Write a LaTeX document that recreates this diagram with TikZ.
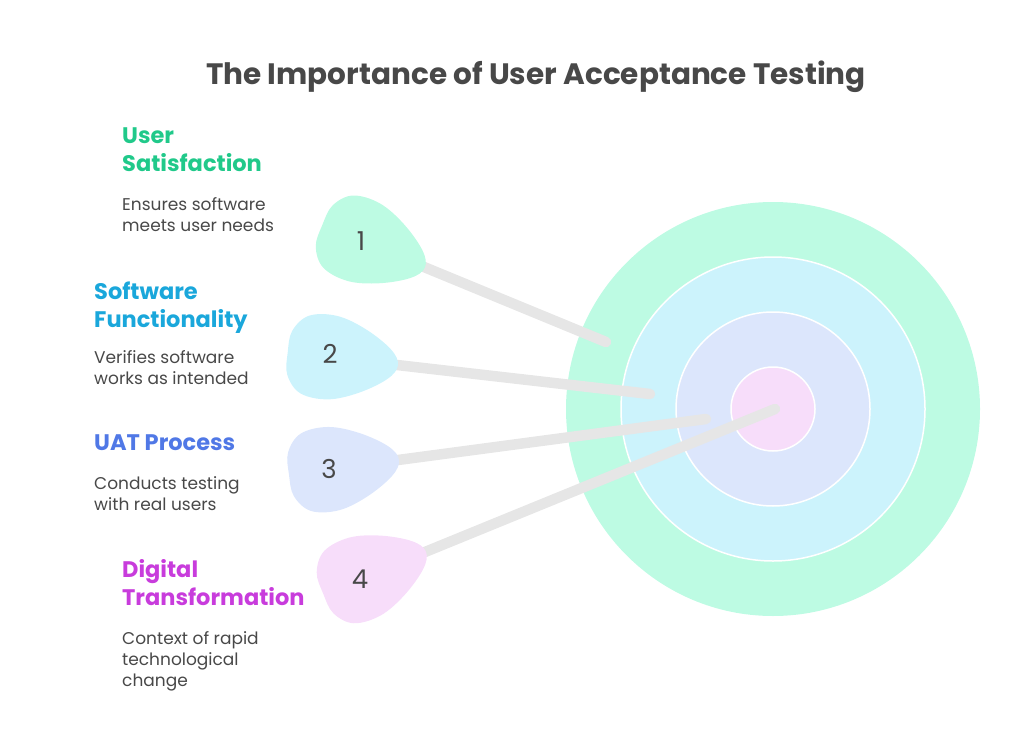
\documentclass[tikz,border=0pt]{standalone}
\usepackage{fontspec}
\setmainfont{Poppins}
\usetikzlibrary{positioning}
\definecolor{mymint}{RGB}{189,251,227}
\definecolor{mycyan}{RGB}{204,243,252}
\definecolor{mylav}{RGB}{220,230,252}
\definecolor{mypink}{RGB}{247,221,250}
\definecolor{mygreen}{RGB}{32,201,138}
\definecolor{myblue}{RGB}{26,167,219}
\definecolor{myindigo}{RGB}{80,120,230}
\definecolor{mypurple}{RGB}{200,60,220}
\definecolor{mygray}{RGB}{72,72,72}
\definecolor{mystick}{RGB}{230,230,230}
\tikzset{
  ring/.style={draw=white, line width=1.5},
  stick/.style={draw=mystick, line width=10.5, line cap=round},
  num/.style={inner sep=0, font=\fontsize{26}{26}\selectfont, text=mygray},
  heading/.style={anchor=north west, inner sep=0, align=left,
    font=\fontsize{22.5}{28}\selectfont\bfseries},
  body/.style={anchor=north west, inner sep=0, align=left,
    font=\fontsize{17}{21}\selectfont, text=mygray},
  dart/.pic={
    \fill[#1] plot[smooth cycle, tension=0.6] coordinates {(1,0) (-8,-15) (-35,-32)
      (-65,-42) (-93,-39) (-108,-22) (-110,0) (-108,22) (-93,39) (-65,42)
      (-35,32) (-8,15)};
  }
}

\begin{document}
\begin{tikzpicture}[x=1pt, y=-1pt]

\useasboundingbox (0,0) rectangle (1024,730);

\node [inner sep=0, text=mygray, font=\fontsize{29.5}{29.5}\selectfont\bfseries] (title) at (536,77) {The Importance of User Acceptance Testing};

% target
\node [circle, fill=mymint, minimum size=414, inner sep=0] (target) at (773,409) {};
\node [circle, ring, fill=mycyan, minimum size=304, inner sep=0] (ring2) at (target) {};
\node [circle, ring, fill=mylav, minimum size=194, inner sep=0] (ring3) at (target) {};
\node [circle, ring, fill=mypink, minimum size=84, inner sep=0] (bull) at (target) {};

% hit points
\coordinate (hit1) at (606,342);
\coordinate (hit2) at (650,394);
\coordinate (hit3) at (706,419);
\coordinate (hit4) at (775,409);

\coordinate (end1) at (424,267);
\coordinate (end2) at (397,365);
\coordinate (end3) at (398,460);
\coordinate (end4) at (425,552);

\draw [stick] (end1) -- (hit1);
\draw [stick] (end2) -- (hit2);
\draw [stick] (end3) -- (hit3);
\draw [stick] (end4) -- (hit4);

\pic [rotate=-22.4] at (end1) {dart=mymint};
\pic [rotate=-6.5] at (end2) {dart=mycyan};
\pic [rotate=7.6] at (end3) {dart=mylav};
\pic [rotate=22.2] at (end4) {dart=mypink};

\node [num] (n1) at (361,241) {1};
\node [num] (n2) at (330,354) {2};
\node [num] (n3) at (329,469) {3};
\node [num] (n4) at (360,579) {4};

% labels
\node [heading, text=mygreen] (h1) at (122,128) {User\\Satisfaction};
\node [body] (b1) at (122,197) {Ensures software\\meets user needs};

\node [heading, text=myblue] (h2) at (94,282) {Software\\Functionality};
\node [body] (b2) at (94,350) {Verifies software\\works as intended};

\node [heading, text=myindigo] (h3) at (94,435) {UAT Process};
\node [body] (b3) at (94,476) {Conducts testing\\with real users};

\node [heading, text=mypurple] (h4) at (122,559) {Digital\\Transformation};
\node [body] (b4) at (122,631) {Context of rapid\\technological\\change};

\end{tikzpicture}
\end{document}
